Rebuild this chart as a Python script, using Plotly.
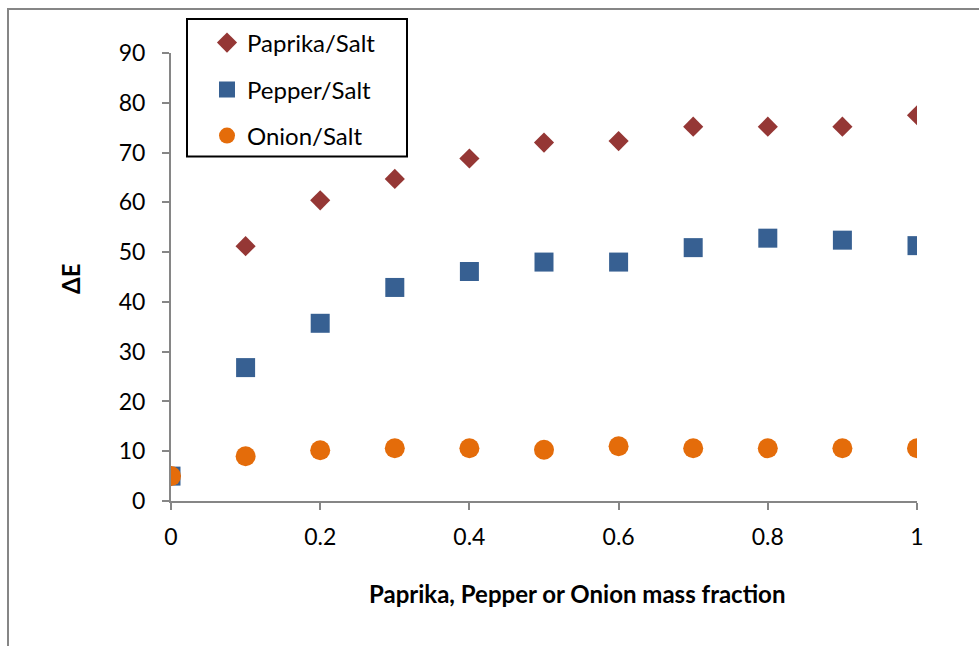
import plotly.graph_objects as go

x_vals = [0, 0.1, 0.2, 0.3, 0.4, 0.5, 0.6, 0.7, 0.8, 0.9, 1.0]
paprika = [5.0, 51.2, 60.4, 64.7, 68.8, 72.0, 72.3, 75.2, 75.2, 75.2, 77.5]
pepper = [5.0, 26.8, 35.7, 42.9, 46.1, 48.0, 48.0, 50.9, 52.8, 52.4, 51.3]
onion = [5.0, 9.0, 10.2, 10.6, 10.6, 10.3, 11.0, 10.6, 10.6, 10.6, 10.6]
x_ticks = [0, 0.2, 0.4, 0.6, 0.8, 1.0]
x_tick_labels = ["0", "0.2", "0.4", "0.6", "0.8", "1"]
y_ticks = [0, 10, 20, 30, 40, 50, 60, 70, 80, 90]

FONT = "Lato"
AXIS_COL = "#868686"
TICK_SIZE = 23
TEXT_SIZE = 24

fig = go.Figure()
fig.add_trace(go.Scatter(x=x_vals, y=paprika, mode="markers", name="Paprika/Salt",
                         marker=dict(symbol="diamond", size=15.5, color="#953735"),
                         legend="legend"))
fig.add_trace(go.Scatter(x=x_vals, y=pepper, mode="markers", name="Pepper/Salt",
                         marker=dict(symbol="square", size=19, color="#376092"),
                         legend="legend2"))
fig.add_trace(go.Scatter(x=x_vals, y=onion, mode="markers", name="Onion/Salt",
                         marker=dict(symbol="circle", size=20, color="#E46C0A"),
                         legend="legend3"))

PX0, PX1 = 171, 917   # plot area pixel x
PY0, PY1 = 53, 501    # plot area pixel y (top, bottom)

def px(xp):
    return (xp - PX0) / (PX1 - PX0)

def py(yp):
    return (PY1 - yp) / (PY1 - PY0)

leg_common = dict(bgcolor="rgba(0,0,0,0)", borderwidth=0, xanchor="left", yanchor="middle",
                  font=dict(family=FONT, size=TEXT_SIZE, color="#000000"))

fig.update_layout(
    width=979, height=646,
    margin=dict(l=PX0, r=979 - PX1, t=PY0, b=646 - PY1),
    paper_bgcolor="white", plot_bgcolor="white",
    font=dict(family=FONT, size=TEXT_SIZE, color="#000000"),
    showlegend=True,
    legend=dict(x=px(207), y=py(43), **leg_common),
    legend2=dict(x=px(207), y=py(90), **leg_common),
    legend3=dict(x=px(207), y=py(136), **leg_common),
    xaxis=dict(range=[0, 1], tickvals=x_ticks, ticktext=x_tick_labels,
               showgrid=False, zeroline=False, showline=True, linecolor=AXIS_COL, linewidth=2,
               ticks="outside", ticklen=7, tickwidth=2, tickcolor=AXIS_COL,
               ticklabelstandoff=7, tickfont=dict(family=FONT, size=TICK_SIZE, color="#000000")),
    yaxis=dict(range=[0, 90], tickvals=y_ticks,
               showgrid=False, zeroline=False, showline=True, linecolor=AXIS_COL, linewidth=2,
               ticks="outside", ticklen=7, tickwidth=2, tickcolor=AXIS_COL,
               ticklabelstandoff=12, tickfont=dict(family=FONT, size=TICK_SIZE, color="#000000")),
    shapes=[
        dict(type="rect", xref="paper", yref="paper",
             x0=px(8), x1=px(1000), y0=py(680), y1=py(9),
             line=dict(color=AXIS_COL, width=2), fillcolor="rgba(0,0,0,0)", layer="below"),
        dict(type="rect", xref="paper", yref="paper",
             x0=px(187), x1=px(407), y0=py(156.5), y1=py(19),
             line=dict(color="#000000", width=2), fillcolor="rgba(0,0,0,0)"),
    ],
    annotations=[
        dict(text="<b>Paprika, Pepper or Onion mass fraction</b>", xref="paper", yref="paper",
             x=px(577), y=py(593), xanchor="center", yanchor="middle", showarrow=False,
             font=dict(family=FONT, size=TEXT_SIZE, color="#000000")),
        dict(text="<b>ΔE</b>", xref="paper", yref="paper",
             x=px(70), y=py(279), xanchor="center", yanchor="middle", showarrow=False,
             textangle=-90, font=dict(family=FONT, size=TEXT_SIZE, color="#000000")),
    ],
)

fig.write_html("out.html", config={"displayModeBar": False},
               post_script="document.body.style.margin='0';document.body.style.padding='0';")
